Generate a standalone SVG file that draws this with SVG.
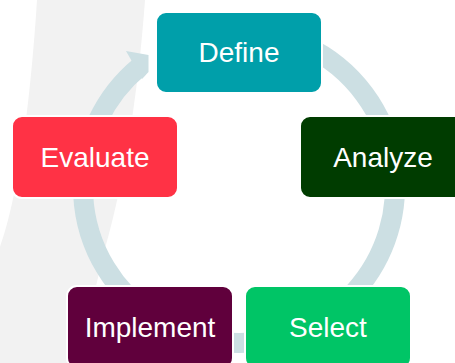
<svg xmlns="http://www.w3.org/2000/svg" width="455" height="363" viewBox="0 0 455 363">
  <style>
    .box { stroke: #ffffff; stroke-width: 2; }
    .lbl { font-family: "Liberation Sans", Arial, sans-serif; font-size: 28px; fill: #ffffff; text-anchor: middle; }
    .ring { fill: none; stroke: #CCDFE3; stroke-width: 20; }
  </style>
  <rect x="0" y="0" width="455" height="363" fill="#ffffff"/>
  <path d="M 37 0 L 145 0 C 140 70, 128 170, 104 252 L 78 363 L 0 363 L 0 247 C 12 215, 28 140, 37 0 Z" fill="#F2F2F2"/>
  <g id="connectors">
    <path class="ring" d="M 239 31 A 156 156 0 1 1 139.8 66.6"/>
    <polygon points="126,51 148.5,55 148.5,72 142,79" fill="#CCDFE3"/>
  </g>
  <g id="define">
    <rect class="box" x="156" y="12" width="166" height="81" rx="10" fill="#009FAA"/>
    <text class="lbl" x="239" y="62">Define</text>
  </g>
  <g id="analyze">
    <rect class="box" x="300" y="116" width="166" height="82" rx="10" fill="#003C00"/>
    <text class="lbl" x="383" y="167">Analyze</text>
  </g>
  <g id="select">
    <rect class="box" x="245" y="286" width="166" height="82" rx="10" fill="#00C566"/>
    <text class="lbl" x="328" y="337">Select</text>
  </g>
  <g id="implement">
    <rect class="box" x="67" y="286" width="166" height="82" rx="10" fill="#60003C"/>
    <text class="lbl" x="150" y="337">Implement</text>
  </g>
  <g id="evaluate">
    <rect class="box" x="12" y="116" width="166" height="82" rx="10" fill="#FF3245"/>
    <text class="lbl" x="95" y="167">Evaluate</text>
  </g>
</svg>
